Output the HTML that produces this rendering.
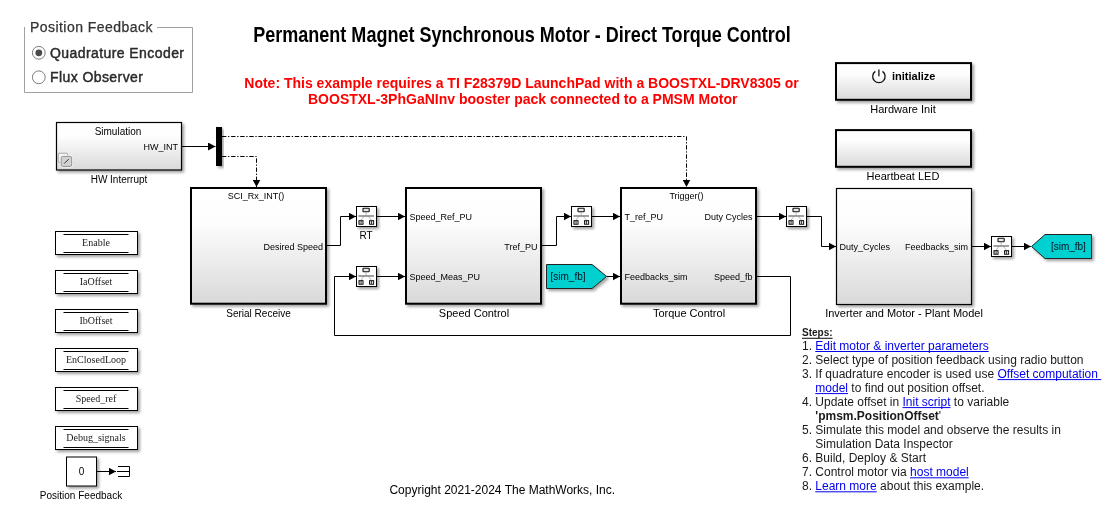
<!DOCTYPE html>
<html><head><meta charset="utf-8">
<style>
html,body{margin:0;padding:0;background:#fff;width:1119px;height:517px;overflow:hidden}
svg{position:absolute;left:0;top:0;will-change:transform}
text{font-family:"Liberation Sans",sans-serif}
.s{font-family:"Liberation Serif",serif}
</style></head><body>
<svg width="1119" height="517" viewBox="0 0 1119 517">
<defs>
<linearGradient id="g" x1="0" y1="0" x2="0" y2="1">
<stop offset="0" stop-color="#ffffff"/>
<stop offset="0.3" stop-color="#fdfdfd"/>
<stop offset="1" stop-color="#d9d9d9"/>
</linearGradient>
<filter id="sh" x="-20%" y="-20%" width="140%" height="140%">
<feGaussianBlur in="SourceAlpha" stdDeviation="1.8"/>
<feOffset dx="2.2" dy="2.2" result="o"/>
<feComponentTransfer><feFuncA type="linear" slope="0.38"/></feComponentTransfer>
<feMerge><feMergeNode/><feMergeNode in="SourceGraphic"/></feMerge>
</filter>
<marker id="ar" viewBox="0 0 7.5 8" refX="7.5" refY="4" markerWidth="7.5" markerHeight="8" markerUnits="userSpaceOnUse" orient="auto">
<path d="M0,0 L7.5,4 L0,8 z" fill="#000"/>
</marker>
</defs>

<!-- Position Feedback group box -->
<path d="M24.5,27 V92.5 H192.5 V27.5 H157" fill="none" stroke="#a0a0a0" stroke-width="1"/>
<text x="30" y="32" font-size="14" fill="#333" stroke="#333" stroke-width="0.25" letter-spacing="0.45">Position Feedback</text>
<circle cx="38.8" cy="52.8" r="6.4" fill="#fff" stroke="#7a7a7a" stroke-width="1"/>
<circle cx="38.8" cy="52.8" r="3.4" fill="#4a4a4a"/>
<text x="50" y="57.5" font-size="14" fill="#2a2a2a" stroke="#2a2a2a" stroke-width="0.45" letter-spacing="0.42">Quadrature Encoder</text>
<circle cx="38.8" cy="77.3" r="6.4" fill="#fff" stroke="#7a7a7a" stroke-width="1"/>
<text x="50" y="82" font-size="14" fill="#2a2a2a" stroke="#2a2a2a" stroke-width="0.45" letter-spacing="0.42">Flux Observer</text>

<!-- Title -->
<text x="522" y="42" font-size="22" font-weight="bold" text-anchor="middle" transform="translate(522 0) scale(0.82 1) translate(-522 0)" fill="#000">Permanent Magnet Synchronous Motor - Direct Torque Control</text>
<text x="521.5" y="88" font-size="14" font-weight="bold" text-anchor="middle" fill="#f00">Note: This example requires a TI F28379D LaunchPad with a BOOSTXL-DRV8305 or</text>
<text x="522.7" y="103.5" font-size="14" font-weight="bold" text-anchor="middle" fill="#f00">BOOSTXL-3PhGaNInv booster pack connected to a PMSM Motor</text>

<!-- HW Interrupt block -->
<rect x="56.5" y="122.5" width="125" height="47.5" fill="url(#g)" stroke="#000" stroke-width="1.2" filter="url(#sh)"/>
<text x="118" y="135" font-size="10" text-anchor="middle" fill="#000">Simulation</text>
<text x="178" y="150" font-size="9" text-anchor="end" fill="#000">HW_INT</text>
<text x="119" y="183" font-size="10" text-anchor="middle" fill="#000">HW Interrupt</text>
<g fill="none" stroke-width="0.9">
<rect x="58.3" y="153.2" width="9.3" height="9.1" rx="0.8" fill="#f4f4f4" stroke="#a0a0a0"/>
<rect x="61.2" y="156.4" width="10.5" height="10" rx="1.6" fill="#d2d2d2" stroke="#fafafa" stroke-width="2.2"/>
<rect x="61.2" y="156.4" width="10.5" height="10" rx="1.6" fill="#d2d2d2" stroke="#8a8a8a"/>
<line x1="64.2" y1="163.6" x2="68.7" y2="159.1" stroke="#333" stroke-width="1"/>
</g>

<!-- Mux bar -->
<rect x="216" y="127" width="6" height="39" fill="#000" filter="url(#sh)"/>
<line x1="182" y1="146.5" x2="215.5" y2="146.5" stroke="#000" stroke-width="1" marker-end="url(#ar)"/>

<!-- dash-dot lines -->
<path d="M222,136.5 H686.5 V187" fill="none" stroke="#000" stroke-width="1" stroke-dasharray="4.4 1.7 1.3 1.7" marker-end="url(#ar)"/>
<path d="M222,156.5 H256.5 V187" fill="none" stroke="#000" stroke-width="1" stroke-dasharray="4.4 1.7 1.3 1.7" marker-end="url(#ar)"/>

<!-- Big blocks -->
<rect x="191" y="188" width="135" height="115.7" fill="url(#g)" stroke="#000" stroke-width="2" filter="url(#sh)"/>
<text x="256" y="198.5" font-size="9" text-anchor="middle">SCI_Rx_INT()</text>
<text x="323" y="249.5" font-size="9" text-anchor="end">Desired Speed</text>
<text x="258.5" y="317" font-size="10" text-anchor="middle">Serial Receive</text>

<rect x="406" y="188" width="135" height="115.7" fill="url(#g)" stroke="#000" stroke-width="2" filter="url(#sh)"/>
<text x="409.5" y="219.5" font-size="9">Speed_Ref_PU</text>
<text x="537.5" y="249.5" font-size="9" text-anchor="end">Tref_PU</text>
<text x="409.5" y="279.5" font-size="9">Speed_Meas_PU</text>
<text x="474" y="317" font-size="11" text-anchor="middle">Speed Control</text>

<rect x="621" y="188" width="135" height="115.7" fill="url(#g)" stroke="#000" stroke-width="2" filter="url(#sh)"/>
<text x="686.5" y="198.5" font-size="9" text-anchor="middle">Trigger()</text>
<text x="624.5" y="219.5" font-size="9">T_ref_PU</text>
<text x="752.5" y="219.5" font-size="9" text-anchor="end">Duty Cycles</text>
<text x="624.5" y="279.5" font-size="9">Feedbacks_sim</text>
<text x="752.5" y="279.5" font-size="9" text-anchor="end">Speed_fb</text>
<text x="689" y="317" font-size="11" text-anchor="middle">Torque Control</text>

<rect x="836.5" y="188.5" width="135" height="116" fill="url(#g)" stroke="#000" stroke-width="1.2" filter="url(#sh)"/>
<text x="839.5" y="250" font-size="9">Duty_Cycles</text>
<text x="968" y="250" font-size="9" text-anchor="end">Feedbacks_sim</text>
<text x="904" y="317" font-size="11" text-anchor="middle">Inverter and Motor - Plant Model</text>

<!-- init / heartbeat -->
<rect x="836" y="63.1" width="135" height="36.7" fill="url(#g)" stroke="#000" stroke-width="2" filter="url(#sh)"/>
<text x="892" y="80" font-size="11" font-weight="bold">initialize</text>
<path d="M875.3,71.4 A6.2,6.2 0 1 0 882.5,71.4" fill="none" stroke="#111" stroke-width="1.3"/>
<line x1="878.9" y1="69.5" x2="878.9" y2="76.3" stroke="#111" stroke-width="1.3"/>
<text x="903" y="113" font-size="11" text-anchor="middle">Hardware Init</text>

<rect x="836" y="130.1" width="135" height="36.7" fill="url(#g)" stroke="#000" stroke-width="2" filter="url(#sh)"/>
<text x="903" y="179.8" font-size="11" text-anchor="middle">Heartbeat LED</text>

<!-- RT blocks -->
<g id="rt">
<rect x="356.5" y="206.5" width="20" height="20" fill="#fff" stroke="#000" stroke-width="1" filter="url(#sh)"/>
<rect x="363" y="208.2" width="6.2" height="3.6" rx="0.6" fill="#e8e8e8" stroke="#111" stroke-width="1.1"/>
<path d="M366.1,212 V215.5 M363.8,216.5 L361.2,220 M368.4,216.5 L371.4,220" stroke="#999" stroke-width="0.7" fill="none"/>
<line x1="358.4" y1="216" x2="374" y2="216" stroke="#6e6e6e" stroke-width="1.3"/>
<rect x="358.5" y="220.2" width="5" height="4.5" fill="#000"/>
<rect x="369.1" y="220.2" width="5" height="4.5" fill="#000"/>
<rect x="359.5" y="221.2" width="1.2" height="2.6" fill="#eee"/>
<rect x="361.4" y="221.2" width="1.2" height="2.6" fill="#eee"/>
<rect x="370.1" y="221.2" width="1.2" height="2.6" fill="#eee"/>
<rect x="372" y="221.2" width="1.2" height="2.6" fill="#eee"/>
</g>
<use href="#rt" x="0" y="60"/>
<use href="#rt" x="215" y="0"/>
<use href="#rt" x="430" y="0"/>
<use href="#rt" x="635" y="30"/>
<text x="366" y="239" font-size="10" text-anchor="middle">RT</text>

<!-- signal lines -->
<g fill="none" stroke="#000" stroke-width="1">
<path d="M327,245.5 H340.5 V216.5 H356" marker-end="url(#ar)"/>
<path d="M377,216.5 H405" marker-end="url(#ar)"/>
<path d="M790.5,276.5 V335.5 H334.5 V276.5 H356" marker-end="url(#ar)"/>
<path d="M377,276.5 H405" marker-end="url(#ar)"/>
<path d="M542,245.5 H556.5 V216.5 H571" marker-end="url(#ar)"/>
<path d="M592,216.5 H620" marker-end="url(#ar)"/>
<path d="M606.5,276.5 H620" marker-end="url(#ar)"/>
<path d="M757,216.5 H786" marker-end="url(#ar)"/>
<path d="M807,216.5 H821.5 V246.5 H836" marker-end="url(#ar)"/>
<path d="M757,276.5 H790.5"/>
<path d="M972,246.5 H991" marker-end="url(#ar)"/>
<path d="M1012,246.5 H1031" marker-end="url(#ar)"/>
</g>

<!-- From / Goto sim_fb -->
<path d="M546.5,264.5 H592 L606.5,276.5 L592,288.5 H546.5 Z" fill="#00d0d0" stroke="#222" stroke-width="1" filter="url(#sh)"/>
<text x="568" y="280" font-size="10" text-anchor="middle" fill="#012">[sim_fb]</text>
<path d="M1031.5,246.5 L1045,234.5 H1091.5 V258.5 H1045 Z" fill="#00d0d0" stroke="#222" stroke-width="1" filter="url(#sh)"/>
<text x="1068.4" y="250" font-size="10" text-anchor="middle" fill="#012">[sim_fb]</text>

<!-- Left goto tag blocks -->
<g id="tg">
<rect x="55.5" y="231.5" width="82" height="23" fill="#fff" stroke="#000" stroke-width="1" filter="url(#sh)"/>
<line x1="63.5" y1="234.5" x2="128.5" y2="234.5" stroke="#000" stroke-width="1"/>
<line x1="63.5" y1="252.5" x2="128.5" y2="252.5" stroke="#000" stroke-width="1"/>
</g>
<use href="#tg" y="39"/>
<use href="#tg" y="78"/>
<use href="#tg" y="117"/>
<use href="#tg" y="156"/>
<use href="#tg" y="195"/>
<g class="s" font-size="10" text-anchor="middle" fill="#222">
<text class="s" x="96" y="246">Enable</text>
<text class="s" x="96" y="285">IaOffset</text>
<text class="s" x="96" y="324">IbOffset</text>
<text class="s" x="96" y="363">EnClosedLoop</text>
<text class="s" x="96" y="402">Speed_ref</text>
<text class="s" x="96" y="441">Debug_signals</text>
</g>

<!-- Constant + terminator -->
<rect x="66.5" y="457" width="30" height="29" fill="#fff" stroke="#000" stroke-width="1" filter="url(#sh)"/>
<text x="81.5" y="475" font-size="10" text-anchor="middle">0</text>
<path d="M97,471.5 H116" fill="none" stroke="#000" stroke-width="1" marker-end="url(#ar)"/>
<path d="M118,466.5 H129.5 V476.5 H118 M117,471.5 H129.5" fill="none" stroke="#000" stroke-width="1"/>
<text x="81" y="499" font-size="10" text-anchor="middle">Position Feedback</text>

<!-- copyright -->
<text x="502.3" y="494" font-size="12" text-anchor="middle">Copyright 2021-2024 The MathWorks, Inc.</text>

<!-- Steps -->
<g font-size="12" fill="#1a1a1a">
<text x="802" y="335.6" font-size="10" font-weight="bold">Steps:</text>
<line x1="802" y1="338.3" x2="832.6" y2="338.3" stroke="#1a1a1a" stroke-width="1.1"/>
<text x="802" y="349.5">1. <tspan fill="#00e">Edit motor &amp; inverter parameters</tspan></text>
<line x1="815.3" y1="351.5" x2="988.7" y2="351.5" stroke="#00e" stroke-width="1"/>
<text x="802" y="363.5">2. Select type of position feedback using radio button</text>
<text x="802" y="377.6">3. If quadrature encoder is used use <tspan fill="#00e">Offset computation</tspan></text>
<line x1="997.5" y1="379.6" x2="1101.3" y2="379.6" stroke="#00e" stroke-width="1"/>
<text x="815.3" y="391.6"><tspan fill="#00e">model</tspan> to find out position offset.</text>
<line x1="815.3" y1="393.6" x2="848.0" y2="393.6" stroke="#00e" stroke-width="1"/>
<text x="802" y="405.6">4. Update offset in <tspan fill="#00e">Init script</tspan> to variable</text>
<line x1="902.5" y1="407.6" x2="950.5" y2="407.6" stroke="#00e" stroke-width="1"/>
<text x="815.3" y="419.6"><tspan font-weight="bold">'pmsm.PositionOffset</tspan>'</text>
<text x="802" y="433.7">5. Simulate this model and observe the results in</text>
<text x="815.3" y="447.7">Simulation Data Inspector</text>
<text x="802" y="461.7">6. Build, Deploy &amp; Start</text>
<text x="802" y="475.8">7. Control motor via <tspan fill="#00e">host model</tspan></text>
<line x1="910.0" y1="477.8" x2="968.7" y2="477.8" stroke="#00e" stroke-width="1"/>
<text x="802" y="489.8">8. <tspan fill="#00e">Learn more</tspan> about this example.</text>
<line x1="815.3" y1="491.8" x2="876.7" y2="491.8" stroke="#00e" stroke-width="1"/>
</g>
</svg>
</body></html>
